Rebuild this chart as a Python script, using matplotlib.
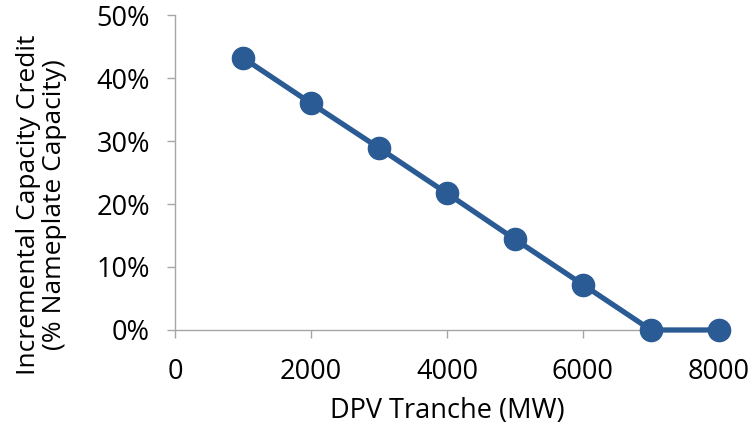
import numpy as np
import matplotlib.pyplot as plt
from matplotlib.ticker import PercentFormatter

plt.rcParams['font.family'] = ['Open Sans', 'DejaVu Sans']

tranche_mw = [1000, 2000, 3000, 4000, 5000, 6000, 7000, 8000]
capacity_credit = [0.432, 0.360, 0.289, 0.217, 0.144, 0.072, 0.0, 0.0]

fig = plt.figure(figsize=(7.52, 4.30), dpi=100)
ax = fig.add_axes([0.2327, 0.2326, 0.7233, 0.7324])

ax.plot(tranche_mw, capacity_credit, color='#2A5B94', linewidth=3.8,
        marker='o', markersize=16, clip_on=False, zorder=3)

ax.set_xlim(0, 8000)
ax.set_ylim(0, 0.5)
ax.set_xticks([0, 2000, 4000, 6000, 8000])
ax.set_yticks(np.arange(0, 0.51, 0.1))
ax.yaxis.set_major_formatter(PercentFormatter(1.0, decimals=0))

for side in ['top', 'right']:
    ax.spines[side].set_visible(False)
for side in ['left', 'bottom']:
    ax.spines[side].set_color('#A6A6A6')
    ax.spines[side].set_linewidth(1.0)

ax.tick_params(axis='both', colors='#A6A6A6', length=6, width=1.0,
               labelsize=19.5, labelcolor='black', direction='out')
ax.tick_params(axis='x', pad=14)
ax.tick_params(axis='y', pad=12)

ax.set_xlabel('DPV Tranche (MW)', fontsize=19.5, labelpad=8)
# the y title sits lower than the axes centre, as in the reference
fig.text(0.055, 0.523, 'Incremental Capacity Credit\n(% Nameplate Capacity)',
         fontsize=19, rotation=90, ha='center', va='center',
         multialignment='center', linespacing=1.05)

plt.savefig('out.png', dpi=100)
